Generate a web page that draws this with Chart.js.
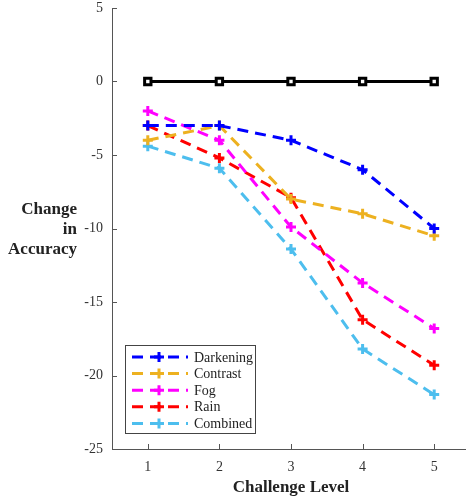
<!DOCTYPE html>
<html>
<head>
<meta charset="utf-8">
<script src="https://cdn.jsdelivr.net/npm/chart.js@4"></script>
<style>
  html, body { margin: 0; padding: 0; background: #fff; overflow: hidden; width: 466px; height: 499px; }
  #wrap { width: 472px; height: 499px; }
</style>
</head>
<body>
<div id="wrap"><canvas id="accChart" width="472" height="499"></canvas></div>
<script>
const levels = [1, 2, 3, 4, 5];
const baseline = [0, 0, 0, 0, 0];
const darkening = [-3, -3, -4, -6, -10];
const contrast = [-4, -3, -8, -9, -10.5];
const fog = [-2, -4, -9.9, -13.7, -16.8];
const rain = [-3, -5.2, -7.9, -16.2, -19.3];
const combined = [-4.4, -5.9, -11.4, -18.2, -21.3];
const yTicks = [-25, -20, -15, -10, -5, 0, 5];

const seriesNames = ["Darkening", "Contrast", "Fog", "Rain", "Combined"];
const seriesColors = ["#0000ff", "#edb120", "#ff00ff", "#ff0000", "#4dbeee"];
const seriesData = [darkening, contrast, fog, rain, combined];

const SERIF = "'Liberation Serif', 'DejaVu Serif', serif";
const DASH = [11, 7];

const datasets = seriesData.map((d, i) => ({
  label: seriesNames[i],
  data: d,
  borderColor: seriesColors[i],
  backgroundColor: seriesColors[i],
  borderWidth: 3,
  borderDash: DASH,
  pointStyle: "cross",
  pointRadius: 5,
  pointBorderWidth: 3,
  pointBorderColor: seriesColors[i],
  tension: 0
}));
// zero reference line
datasets.push({
  label: "baseline",
  data: baseline,
  borderColor: "#000",
  borderWidth: 3,
  pointStyle: "rect",
  pointRadius: 4.5,
  pointBorderWidth: 3,
  pointBorderColor: "#000",
  pointBackgroundColor: "#fff",
  tension: 0
});

// MATLAB-ish axes: left + bottom lines with inward ticks
const axesPlugin = {
  id: "axesLines",
  beforeDatasetsDraw(chart) {
    const { ctx, chartArea: a, scales: { x, y } } = chart;
    ctx.save();
    ctx.strokeStyle = "#555";
    ctx.lineWidth = 1;
    ctx.beginPath();
    ctx.moveTo(a.left + 0.5, a.top);
    ctx.lineTo(a.left + 0.5, a.bottom + 0.5);
    ctx.lineTo(a.right, a.bottom + 0.5);
    yTicks.forEach(v => {
      const py = Math.round(y.getPixelForValue(v)) + 0.5;
      ctx.moveTo(a.left, py);
      ctx.lineTo(a.left + 5, py);
    });
    levels.forEach((l, i) => {
      const px = Math.round(x.getPixelForValue(i)) + 0.5;
      ctx.moveTo(px, a.bottom);
      ctx.lineTo(px, a.bottom - 5);
    });
    ctx.stroke();

    // y title, horizontal and right aligned
    ctx.fillStyle = "#222";
    ctx.font = "bold 17px " + SERIF;
    ctx.textAlign = "right";
    ctx.textBaseline = "middle";
    ["Change", "in", "Accuracy"].forEach((t, i) => ctx.fillText(t, 77, 210 + i * 20));
    ctx.restore();
  },
  afterDraw(chart) {
    const { ctx } = chart;
    const bx = 125, by = 345, bw = 130, bh = 88;
    ctx.save();
    ctx.fillStyle = "#fff";
    ctx.fillRect(bx, by, bw, bh);
    ctx.strokeStyle = "#444";
    ctx.lineWidth = 1;
    ctx.strokeRect(bx + 0.5, by + 0.5, bw, bh);
    seriesNames.forEach((name, i) => {
      const ry = 357 + i * 16.6;
      ctx.strokeStyle = seriesColors[i];
      ctx.lineWidth = 3;
      ctx.setLineDash(DASH);
      ctx.beginPath();
      ctx.moveTo(132, ry);
      ctx.lineTo(188, ry);
      ctx.stroke();
      ctx.setLineDash([]);
      ctx.beginPath();
      ctx.moveTo(154, ry);
      ctx.lineTo(164, ry);
      ctx.moveTo(159, ry - 5);
      ctx.lineTo(159, ry + 5);
      ctx.stroke();
      ctx.fillStyle = "#222";
      ctx.font = "14px " + SERIF;
      ctx.textAlign = "left";
      ctx.textBaseline = "middle";
      ctx.fillText(name, 194, ry + 1);
    });
    ctx.restore();
  }
};

new Chart(document.getElementById("accChart"), {
  type: "line",
  data: { labels: levels, datasets },
  options: {
    responsive: false,
    animation: false,
    layout: { autoPadding: false, padding: { top: 8, right: 2, left: 0, bottom: 0 } },
    plugins: { legend: { display: false }, tooltip: { enabled: false } },
    scales: {
      x: {
        type: "category",
        offset: true,
        grid: { display: false, drawTicks: false },
        border: { display: false },
        ticks: { color: "#333", padding: 10, font: { family: SERIF, size: 14 } },
        title: {
          display: true,
          text: "Challenge Level",
          color: "#222",
          font: { family: SERIF, size: 17, weight: "bold" },
          padding: { top: 0, bottom: 1 }
        },
        afterFit(s) { s.height = 50; s.paddingLeft = 0; s.paddingRight = 0; }
      },
      y: {
        min: -25,
        max: 5,
        grid: { display: false, drawTicks: false },
        border: { display: false },
        ticks: { stepSize: 5, color: "#333", padding: 9, font: { family: SERIF, size: 14 } },
        afterFit(s) { s.width = 112; s.paddingTop = 0; s.paddingBottom = 0; }
      }
    }
  },
  plugins: [axesPlugin]
});
</script>
</body>
</html>
